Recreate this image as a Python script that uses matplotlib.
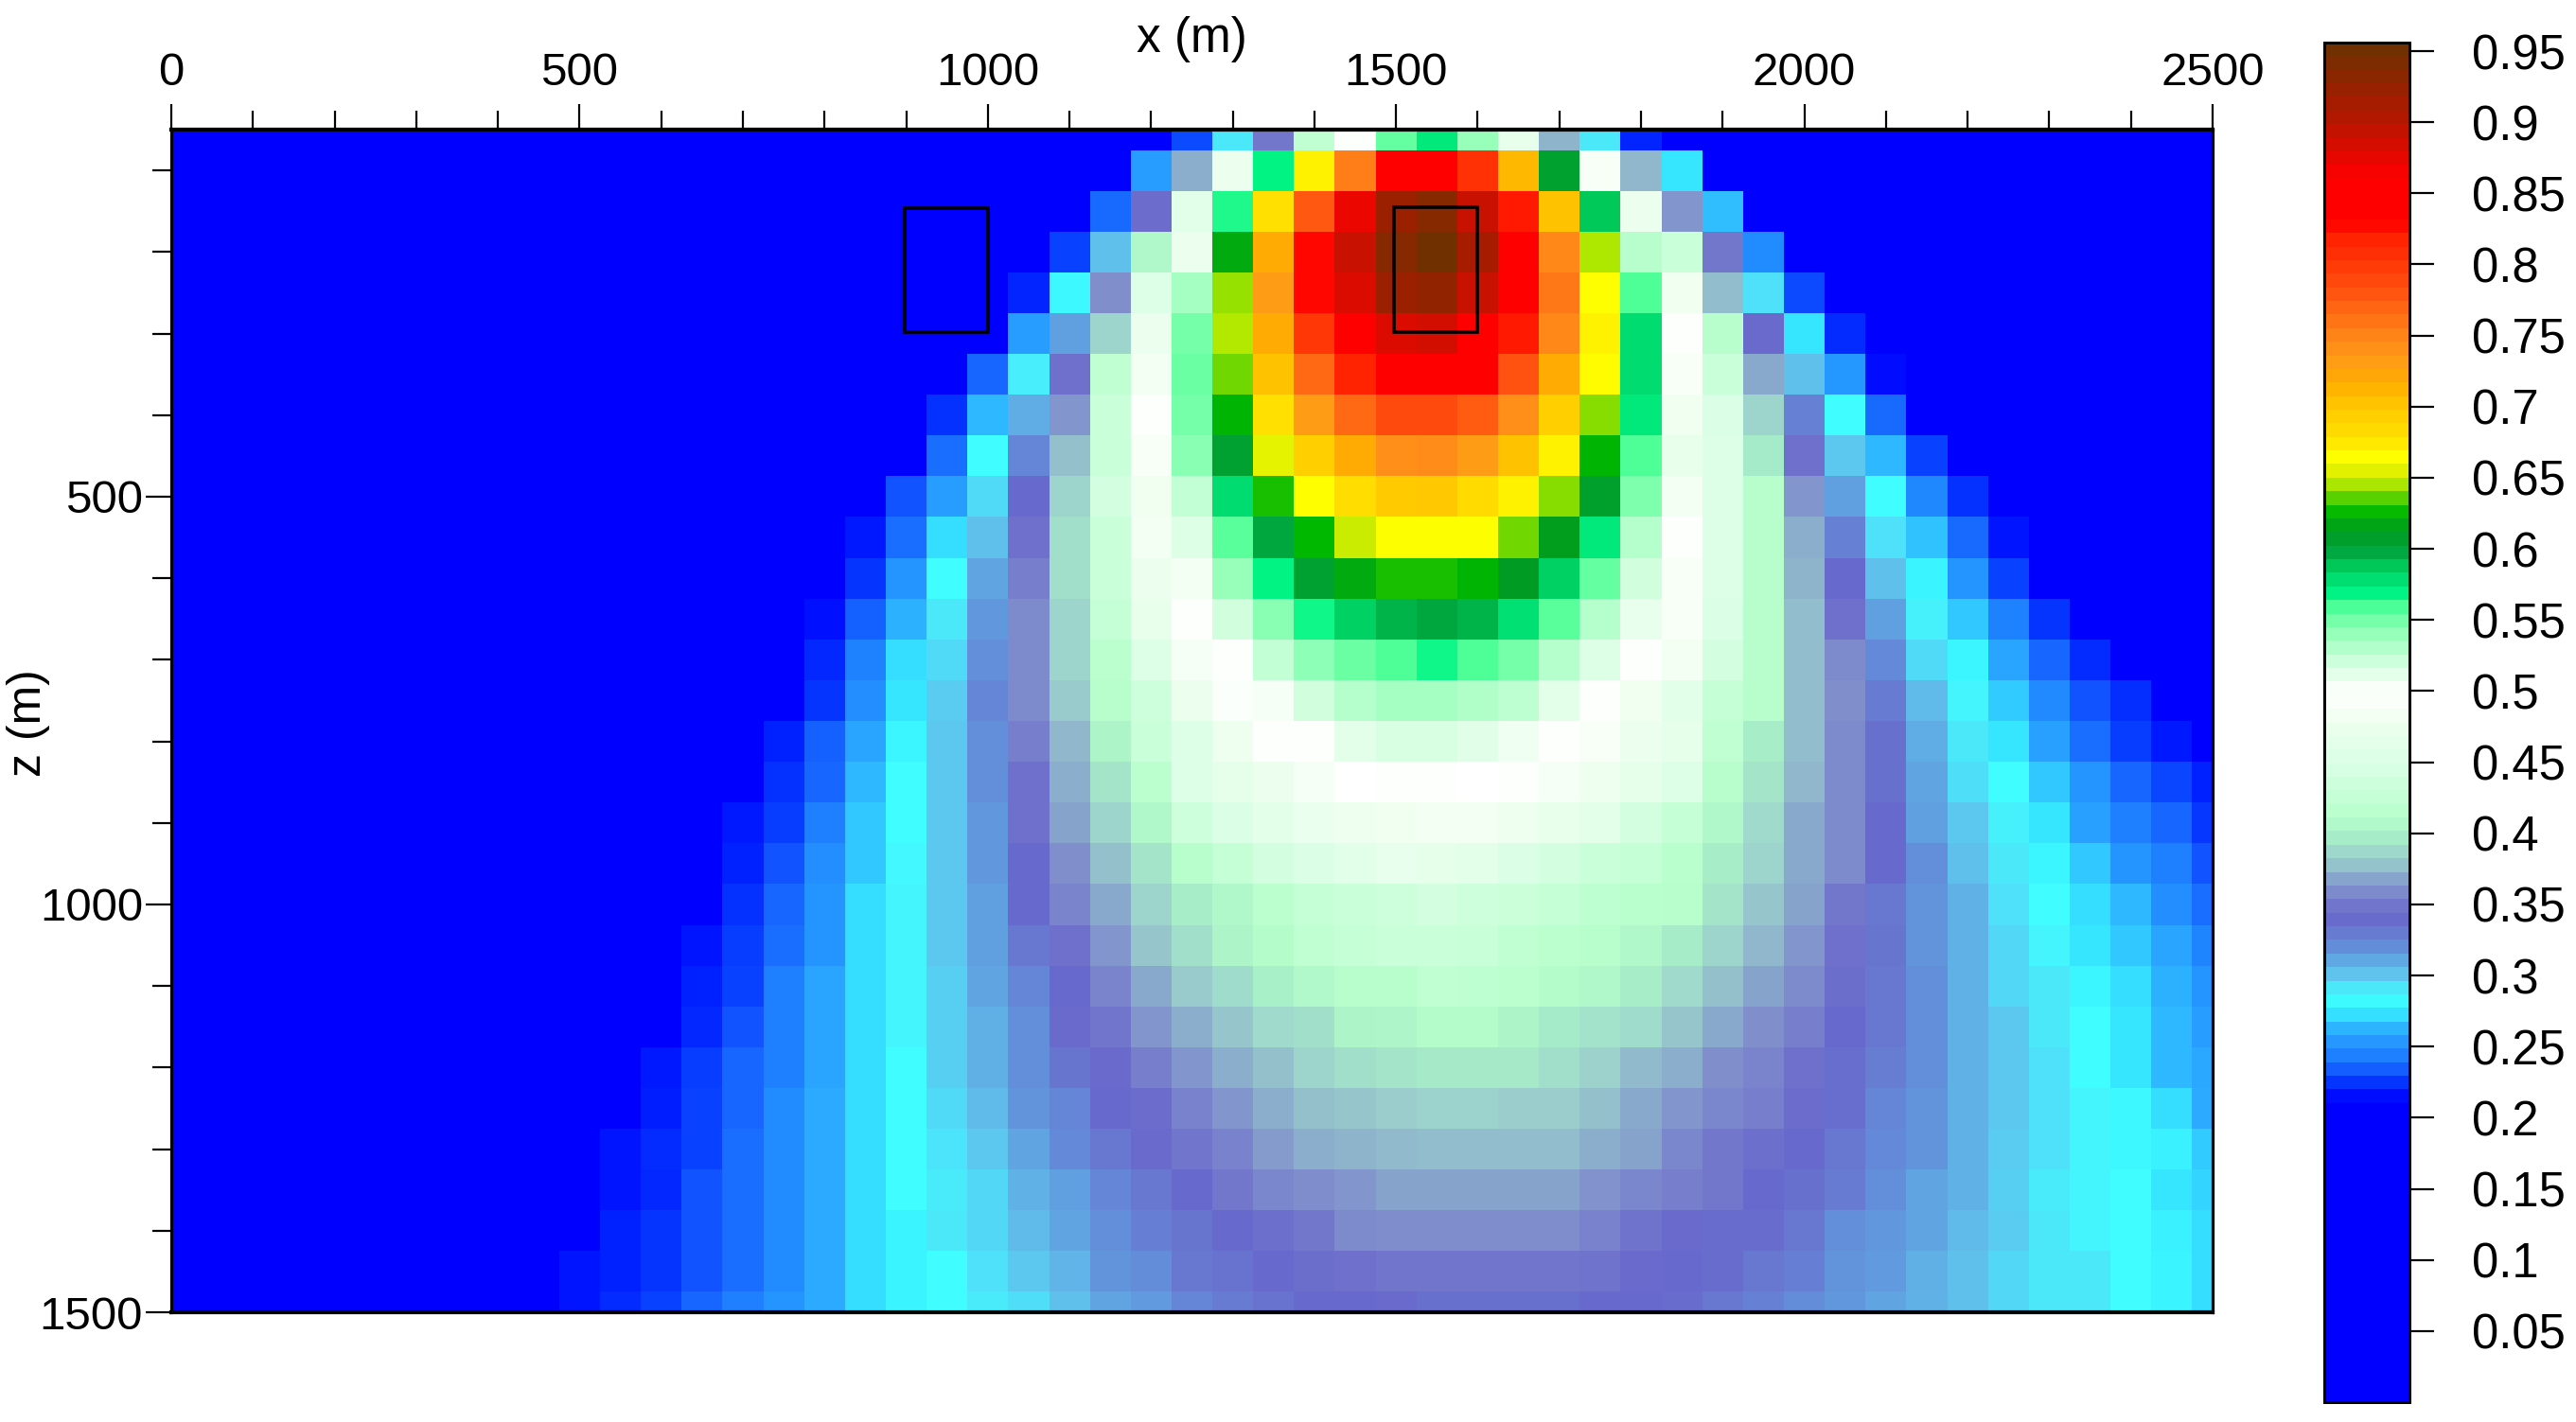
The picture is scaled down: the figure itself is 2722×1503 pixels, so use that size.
import matplotlib
matplotlib.use("Agg")
import matplotlib.pyplot as plt
import numpy as np
from matplotlib.cm import ScalarMappable
from matplotlib.colors import LinearSegmentedColormap, Normalize
from matplotlib.patches import Rectangle
from matplotlib.ticker import MultipleLocator

plt.rcParams['font.family'] = ['Liberation Sans', 'DejaVu Sans']

W, H = 2722, 1503
B = 0.1  # background level, below the blue limit of the colour scale
NX = 51

x_values = np.arange(0, 2501, 50)
z_values = np.arange(50, 1501, 50)

def row(first, vals):
    r = [B] * first + list(vals)
    r += [B] * (NX - len(r))
    assert len(r) == NX
    return r

r00 = row(25, [.228,.29,.35,.42,.50,.555,.575,.54,.47,.372,.29,.218])
r01 = row(24, [.254,.37,.475,.57,.672,.757,.85,.85,.81,.712,.606,.49,.373,.272])
r02 = row(23, [.235,.342,.46,.565,.68,.78,.875,.925,.94,.895,.825,.705,.589,.475,.362,.264])
r03 = row(22, [.226,.30,.405,.475,.62,.72,.83,.895,.94,.955,.915,.85,.75,.647,.41,.43,.35,.246])
r04 = row(21, [.218,.28,.36,.455,.535,.645,.735,.83,.885,.925,.93,.895,.85,.76,.666,.56,.48,.375,.292,.228])
r05 = row(21, [.254,.312,.385,.475,.55,.648,.72,.805,.85,.885,.89,.86,.825,.75,.672,.58,.5,.41,.34,.272,.22])
r06 = row(20, [.234,.288,.345,.42,.485,.553,.64,.705,.77,.82,.85,.85,.835,.785,.72,.667,.58,.49,.43,.368,.3,.252,.212])
r07 = row(19, [.222,.262,.308,.362,.43,.495,.55,.625,.68,.735,.77,.79,.79,.778,.745,.695,.643,.575,.48,.45,.385,.325,.283,.235])
r08 = row(19, [.236,.283,.322,.376,.43,.49,.545,.605,.658,.695,.72,.745,.747,.735,.705,.672,.625,.56,.47,.455,.395,.345,.298,.262,.226])
r09 = row(18, [.23,.254,.294,.338,.385,.44,.48,.525,.58,.63,.666,.683,.70,.702,.685,.672,.643,.607,.548,.485,.455,.41,.362,.312,.283,.244,.222])
r10 = row(17, [.215,.236,.27,.30,.345,.39,.43,.485,.515,.558,.60,.627,.652,.665,.665,.665,.64,.615,.575,.53,.5,.455,.41,.37,.325,.292,.265,.235,.214])
r11 = row(17, [.223,.25,.283,.31,.352,.39,.43,.475,.485,.54,.57,.605,.62,.63,.63,.625,.612,.585,.555,.52,.49,.455,.41,.372,.338,.30,.277,.25,.226])
r12 = row(16, [.213,.233,.26,.29,.315,.358,.385,.425,.47,.495,.52,.545,.567,.585,.595,.60,.595,.578,.558,.53,.51,.49,.45,.41,.375,.345,.312,.287,.266,.242,.223])
r13 = row(16, [.219,.242,.27,.294,.318,.358,.385,.415,.455,.487,.5,.525,.543,.553,.56,.567,.56,.55,.53,.515,.5,.485,.44,.41,.375,.358,.32,.294,.278,.256,.234,.22])
r14 = row(16, [.223,.247,.272,.297,.322,.358,.38,.41,.435,.475,.493,.505,.52,.53,.535,.535,.532,.527,.512,.5,.48,.46,.425,.41,.375,.36,.328,.302,.286,.267,.245,.23,.221])
r15 = row(15, [.217,.233,.256,.278,.298,.318,.352,.373,.402,.43,.455,.478,.495,.5,.512,.517,.517,.513,.507,.5,.49,.475,.465,.42,.397,.375,.358,.335,.308,.29,.272,.255,.236,.225,.215])
r16 = row(15, [.222,.234,.262,.283,.298,.318,.345,.37,.393,.415,.455,.465,.475,.487,.497,.5,.5,.497,.495,.487,.478,.465,.455,.41,.393,.373,.358,.335,.31,.293,.283,.266,.25,.234,.227,.217])
r17 = row(14, [.215,.225,.241,.266,.283,.298,.315,.345,.366,.385,.405,.435,.45,.462,.472,.478,.482,.483,.483,.478,.47,.462,.44,.425,.405,.387,.368,.358,.338,.312,.298,.287,.272,.255,.241,.234,.224])
r18 = row(14, [.217,.23,.247,.266,.285,.298,.315,.338,.36,.376,.393,.41,.425,.44,.45,.46,.468,.465,.463,.45,.44,.43,.425,.412,.397,.385,.368,.358,.338,.318,.30,.29,.278,.266,.25,.241,.23])
r19 = row(14, [.222,.234,.25,.27,.286,.298,.312,.338,.355,.368,.385,.397,.405,.415,.425,.43,.435,.44,.435,.432,.425,.417,.412,.41,.393,.378,.366,.35,.33,.316,.306,.292,.283,.27,.262,.247,.236])
r20 = row(13, [.214,.225,.236,.25,.27,.286,.298,.312,.33,.345,.362,.378,.39,.402,.408,.42,.425,.43,.43,.428,.42,.415,.41,.405,.396,.385,.373,.362,.345,.332,.316,.306,.295,.286,.272,.266,.256,.243])
r21 = row(13, [.217,.226,.241,.256,.27,.286,.296,.31,.322,.338,.355,.368,.38,.388,.398,.406,.41,.41,.42,.418,.413,.408,.405,.397,.387,.376,.366,.358,.343,.33,.318,.306,.295,.29,.278,.27,.26,.25])
r22 = row(13, [.219,.23,.241,.256,.27,.286,.296,.307,.318,.34,.348,.362,.37,.378,.387,.39,.402,.403,.408,.408,.402,.395,.392,.388,.378,.368,.36,.352,.338,.33,.318,.306,.298,.29,.283,.272,.262,.254])
r23 = row(12, [.215,.225,.234,.241,.256,.27,.283,.296,.307,.318,.332,.34,.352,.362,.37,.376,.385,.39,.393,.394,.394,.394,.39,.383,.374,.37,.36,.355,.345,.336,.327,.318,.306,.298,.292,.283,.272,.262,.257])
r24 = row(12, [.216,.226,.234,.246,.258,.27,.283,.294,.302,.316,.322,.338,.342,.354,.362,.37,.376,.378,.381,.384,.384,.381,.381,.376,.368,.362,.356,.352,.342,.336,.322,.316,.306,.298,.292,.286,.28,.27,.258])
r25 = row(11, [.214,.22,.226,.236,.246,.258,.27,.283,.291,.298,.31,.32,.33,.34,.348,.354,.364,.37,.372,.374,.375,.375,.375,.375,.37,.366,.356,.35,.344,.338,.33,.32,.316,.306,.297,.292,.286,.28,.275,.267])
r26 = row(11, [.214,.219,.23,.236,.246,.258,.27,.283,.289,.295,.306,.312,.322,.33,.338,.35,.356,.359,.362,.366,.366,.366,.366,.366,.361,.356,.352,.35,.338,.335,.328,.318,.31,.306,.296,.289,.286,.283,.272,.268])
r27 = row(11, [.217,.223,.23,.236,.246,.258,.27,.277,.29,.295,.302,.31,.318,.326,.332,.338,.344,.35,.358,.359,.359,.359,.359,.359,.354,.347,.34,.337,.337,.33,.318,.315,.31,.302,.297,.29,.286,.283,.275,.27])
r28 = row(10, [.214,.217,.223,.23,.236,.246,.258,.27,.277,.283,.292,.298,.305,.316,.319,.33,.333,.338,.343,.345,.348,.348,.348,.348,.348,.347,.34,.338,.337,.33,.326,.316,.314,.307,.3,.295,.29,.29,.283,.277,.27])
r29 = row(10, [.214,.22,.226,.234,.241,.25,.258,.27,.277,.283,.289,.293,.3,.31,.314,.322,.328,.333,.338,.338,.34,.335,.335,.335,.335,.338,.338,.337,.33,.325,.319,.315,.31,.306,.3,.295,.29,.29,.283,.277,.27])

field = np.array([r00,r01,r02,r03,r04,r05,r06,r07,r08,r09,r10,r11,r12,r13,r14,
                  r15,r16,r17,r18,r19,r20,r21,r22,r23,r24,r25,r26,r27,r28,r29])

scale_max = 0.956
cmap_levels = [0, .21, .2165, .226, .234, .244, .255, .264, .274, .283, .293, .30, .312, .32, .33, .339,
               .35, .36, .368, .377, .388, .398, .411, .446, .481, .4985, .505, .52, .54, .559, .569, .58,
               .589, .599, .613, .627, .637, .647, .656, .666, .68, .702, .718, .737, .756, .782, .823,
               .833, .865, .909, .956]
cmap_colors = ['#0000FF', '#0000FF', '#0020FF', '#0840FF', '#1868FF', '#2088FF', '#28A0FF', '#30C0FF',
               '#38F0FF', '#40FFFF', '#50DCF8', '#60C0EC', '#60A0E0', '#6488D8', '#6878D0', '#6868CC',
               '#7478CC', '#8090CC', '#88A8CC', '#96C4CC', '#A0DCCC', '#A8F0C8', '#B8FFCC', '#D8FFE4',
               '#F0FFF0', '#FFFFFF', '#F5FFF5', '#D0FFDD', '#99FFBB', '#55FF99', '#00F585', '#00DD70',
               '#00C858', '#00A840', '#009A20', '#00B800', '#55D000', '#AAE600', '#E0F000', '#FFFF00',
               '#FFE000', '#FFC800', '#FFAE00', '#FF9A18', '#FF8018', '#FF5510', '#FF2000', '#FF0000',
               '#FF0000', '#B01800', '#703000']

x_major_labels = [0, 500, 1000, 1500, 2000, 2500]
z_major_labels = [500, 1000, 1500]
bar_ticks = [.05,.1,.15,.2,.25,.3,.35,.4,.45,.5,.55,.6,.65,.7,.75,.8,.85,.9,.95]
bar_labels = ['0.05','0.1','0.15','0.2','0.25','0.3','0.35','0.4','0.45','0.5','0.55','0.6','0.65',
              '0.7','0.75','0.8','0.85','0.9','0.95']
# x_left, z_top, width, height in metres
boxes = [(898, 146, 102, 152), (1498, 145, 102, 153)]

anchors = [(v / scale_max, c) for v, c in zip(cmap_levels, cmap_colors)]
field_cmap = LinearSegmentedColormap.from_list('survey_fine', anchors, N=1024)
bar_cmap = LinearSegmentedColormap.from_list('survey_bands', anchors, N=100)
norm = Normalize(0, scale_max)

def px_axes(fig, l, t, r, b):
    return fig.add_axes([l / W, 1 - b / H, (r - l) / W, (b - t) / H])

fig = plt.figure(figsize=(W / 100, H / 100), dpi=100, facecolor='white')
px = 0.72
ax = px_axes(fig, 181, 137, 2338, 1387)
mesh = ax.pcolormesh(x_values, z_values, field, shading='nearest', cmap=field_cmap, norm=norm,
                     linewidth=0, rasterized=True)
ax.set_xlim(0, 2500)
ax.set_ylim(1500, 50)
ax.xaxis.tick_top()
ax.xaxis.set_major_locator(plt.FixedLocator(x_major_labels))
ax.xaxis.set_minor_locator(MultipleLocator(100))
ax.yaxis.set_major_locator(plt.FixedLocator(z_major_labels))
ax.yaxis.set_minor_locator(MultipleLocator(100))
ax.tick_params(which='major', length=27 * px, width=2.2 * px, labelsize=35.5, pad=10 * px, color='black')
ax.tick_params(which='minor', length=20 * px, width=2.2 * px, color='black')
ax.tick_params(axis='y', which='major', pad=3 * px)
for name, s in ax.spines.items():
    s.set_linewidth((4.2 if name in ('top', 'bottom') else 3.2) * px)
    s.set_color('black')
for (bx, bz, bw, bh) in boxes:
    ax.add_patch(Rectangle((bx, bz), bw, bh, fill=False, edgecolor='black', linewidth=3.6 * px, zorder=5))

fig.text(1259 / W, 1 - 41 / H, 'x (m)', ha='center', va='center', fontsize=37)
fig.text(30 / W, 1 - 764 / H, 'z (m)', ha='center', va='center', rotation=90, fontsize=36)

cax = px_axes(fig, 2456, 45, 2546, 1482)
cb = fig.colorbar(ScalarMappable(norm=norm, cmap=bar_cmap), cax=cax, ticks=bar_ticks)
cb.ax.set_yticklabels(bar_labels)
cb.ax.tick_params(length=26 * px, width=2.2 * px, labelsize=36.5, pad=40 * px, color='black')
cb.outline.set_linewidth(3 * px)
cb.outline.set_edgecolor('black')
cb.minorticks_off()

fig.savefig('out.png', dpi=100, facecolor='white')
